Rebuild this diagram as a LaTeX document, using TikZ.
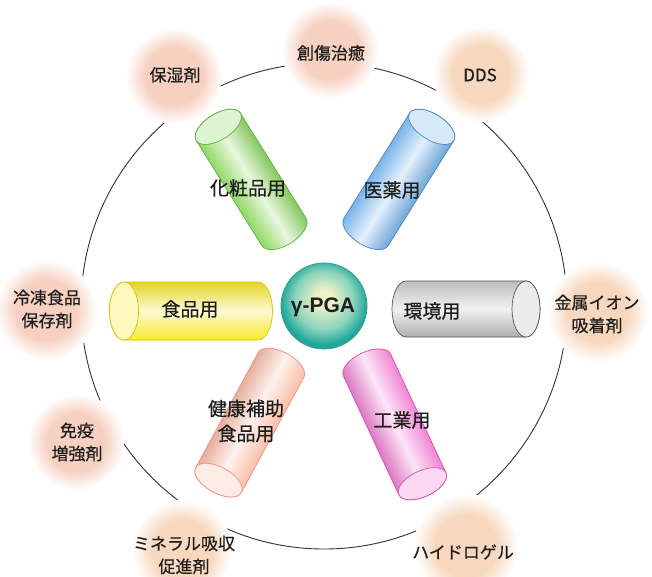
\documentclass[tikz,border=0pt]{standalone}
\usepackage{fontspec}
\newfontfamily\jp[FakeBold=0.5]{Noto Sans CJK JP}
\newfontfamily\lat{Liberation Sans}

% colours
\definecolor{peach}{HTML}{F6D0C0}
\definecolor{apricot}{HTML}{F7D8BE}
\definecolor{pgahi}{HTML}{ECF2C6}
\definecolor{pgamid}{HTML}{8CD4BC}
\definecolor{pgaedge}{HTML}{1FA79C}
\definecolor{pgaline}{HTML}{3A9C8A}
\definecolor{tgreen}{HTML}{90D864}
\definecolor{tgreenE}{HTML}{62B040}
\definecolor{tblue}{HTML}{7AB4EA}
\definecolor{tblueE}{HTML}{4488CC}
\definecolor{tgray}{HTML}{BDBDBD}
\definecolor{tgrayE}{HTML}{555555}
\definecolor{tyellow}{HTML}{F6E828}
\definecolor{tyellowE}{HTML}{D8C400}
\definecolor{tpeach}{HTML}{F9BEA8}
\definecolor{tpeachE}{HTML}{EE9088}
\definecolor{tpink}{HTML}{F084D4}
\definecolor{tpinkE}{HTML}{DC4CB0}
\definecolor{ink}{HTML}{1E1E1E}

\pgfdeclareradialshading{peachblob}{\pgfpoint{0bp}{0bp}}{color(0bp)=(peach); color(15bp)=(peach); color(25bp)=(white); color(50bp)=(white)}
\pgfdeclareradialshading{apricotblob}{\pgfpoint{0bp}{0bp}}{color(0bp)=(apricot); color(15bp)=(apricot); color(25bp)=(white); color(50bp)=(white)}
\pgfdeclareradialshading{pgaball}{\pgfpoint{0bp}{5bp}}{color(0bp)=(pgahi); color(5bp)=(pgahi); color(17bp)=(pgamid); color(25bp)=(pgaedge); color(50bp)=(pgaedge)}

% tube: #1 inner end centre, #2 direction, #3 length, #4 radius, #5 colour, #6 rim colour
\newcommand{\tube}[6]{%
  \begin{scope}[transform canvas={shift={#1},rotate=#2}]
    \shade[top color=#5, bottom color=#5!92!black, middle color=#5!20!white]
      (0,-#4) -- (#3,-#4) arc[start angle=-90,end angle=90,x radius=0.5*#4,y radius=#4]
      -- (0,#4) arc[start angle=90,end angle=270,x radius=0.5*#4,y radius=#4] -- cycle;
    \draw[#6, line width=0.7]
      (0,-#4) -- (#3,-#4) arc[start angle=-90,end angle=90,x radius=0.5*#4,y radius=#4]
      -- (0,#4) arc[start angle=90,end angle=270,x radius=0.5*#4,y radius=#4] -- cycle;
    \draw[#6, line width=0.7, fill=#5!30!white] (#3,0) ellipse[x radius=0.5*#4, y radius=#4];
  \end{scope}}

\begin{document}
\begin{tikzpicture}[x=1pt,y=-1pt,
  blobtext/.style={font=\jp\fontsize{17}{23}\selectfont, text=ink, align=center, inner sep=0pt},
  tubetext/.style={font=\jp\fontsize{19}{25}\selectfont, text=ink, align=center, inner sep=0pt}]
\useasboundingbox (0,0) rectangle (652,576);
\clip (0,0) rectangle (652,576);
\fill[white] (0,0) rectangle (652,576);

% outer ring
\draw[line width=0.9, black!80] (324,306) circle[radius=243];

% soft application blobs (their white rims break the ring)
\shade[shading=peachblob]   (174,76)  circle[radius=48];
\shade[shading=peachblob]   (330,50)  circle[radius=48];
\shade[shading=apricotblob] (481,74)  circle[radius=48];
\shade[shading=peachblob]   (46,310)  circle[radius=50];
\shade[shading=apricotblob] (598,312) circle[radius=50];
\shade[shading=peachblob]   (76,442)  circle[radius=48];
\shade[shading=apricotblob] (182,550) circle[radius=50];
\shade[shading=apricotblob] (466,546) circle[radius=52];

% tubes
\tube{(284,232)}{122}{124}{26}{tgreen}{tgreenE}
\tube{(366,232)}{58}{124}{26}{tblue}{tblueE}
\tube{(258,311)}{180}{134}{29}{tyellow}{tyellowE}
\tube{(406,309)}{0}{120}{28}{tgray}{tgrayE}
\tube{(281,365)}{241.5}{131}{26}{tpeach}{tpeachE}
\tube{(367,365)}{-65}{131}{26}{tpink}{tpinkE}

% centre ball
\shade[shading=pgaball] (324,306) circle[radius=43];
\draw[pgaline, line width=0.8] (324,306) circle[radius=43];
\node[font=\lat\bfseries\fontsize{21}{24}\selectfont, text=ink] (pga) at (323,307) {γ-PGA};

% tube labels
\node[tubetext] (cosm)  at (248,188) {化粧品用};
\node[tubetext] (pharm) at (392,190) {医薬用};
\node[tubetext] (food)  at (190,309) {食品用};
\node[tubetext] (env)   at (432,311) {環境用};
\node[tubetext] (suppl) at (246,421) {健康補助\\食品用};
\node[tubetext] (ind)   at (402,420) {工業用};

% blob labels
\node[blobtext] (moist)   at (175,75)  {保湿剤};
\node[blobtext] (wound)   at (331,53)  {創傷治癒};
\node[blobtext] (dds)     at (480,75)  {DDS};
\node[blobtext] (frozen)  at (47,309)  {冷凍食品\\保存剤};
\node[blobtext] (metal)   at (597,314) {金属イオン\\吸着剤};
\node[blobtext] (immune)  at (77,442)  {免疫\\増強剤};
\node[blobtext] (mineral) at (184,555) {ミネラル吸収\\促進剤};
\node[blobtext] (hydro)   at (463,552) {ハイドロゲル};
\end{tikzpicture}
\end{document}
